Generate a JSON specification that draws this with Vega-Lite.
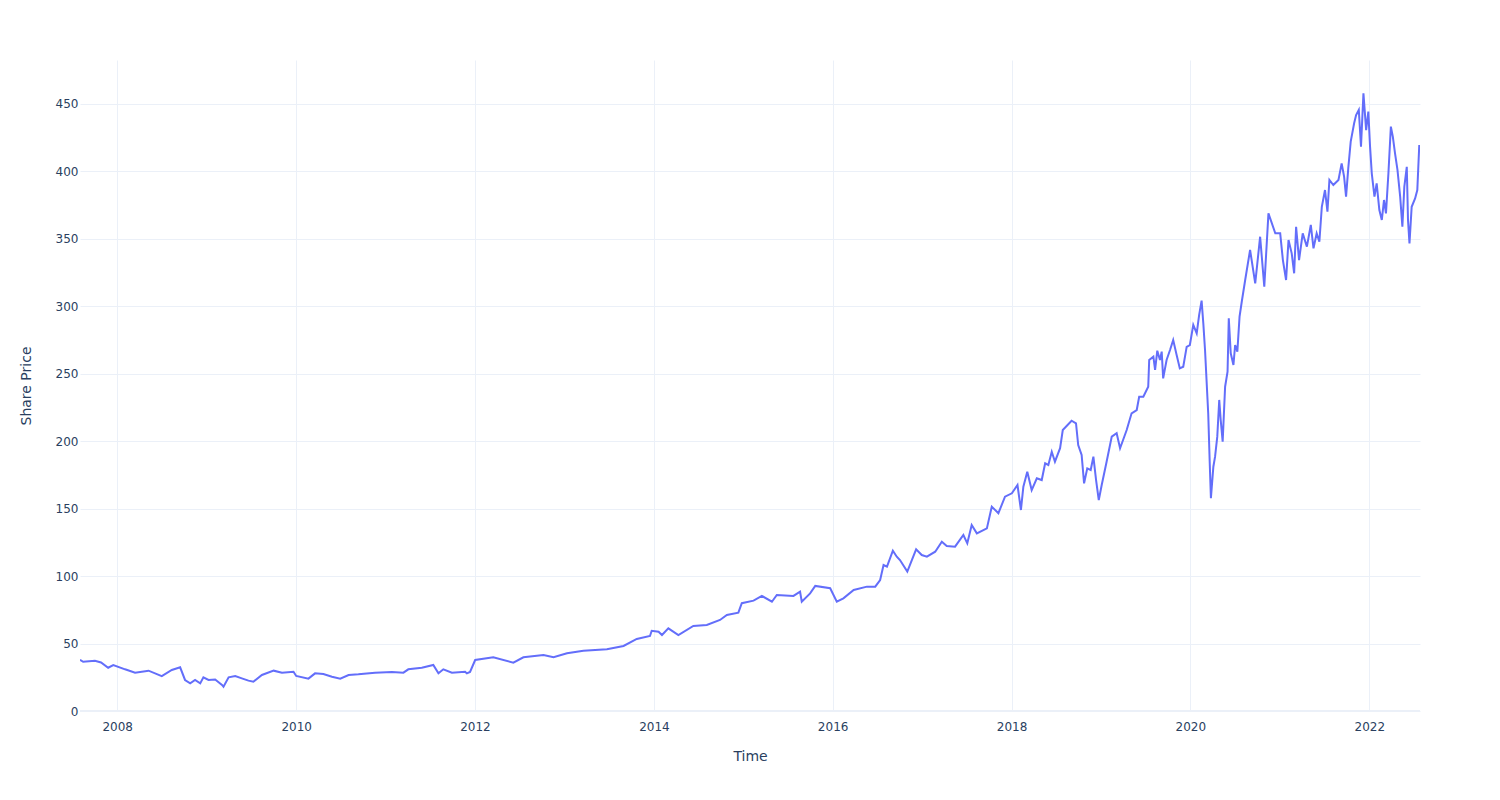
{
  "$schema": "https://vega.github.io/schema/vega-lite/v6.json",
  "autosize": "none",
  "width": 1340,
  "height": 651,
  "padding": {"left": 80, "top": 60, "right": 80, "bottom": 89},
  "background": "white",
  "config": {
    "view": {"stroke": null},
    "font": "DejaVu Sans"
  },
  "data": {
    "values": [
      {"date": "2007-08-02", "price": 38},
      {"date": "2007-08-15", "price": 36.5},
      {"date": "2007-10-02", "price": 37.3},
      {"date": "2007-10-27", "price": 36},
      {"date": "2007-11-25", "price": 32.1},
      {"date": "2007-12-16", "price": 34.1},
      {"date": "2008-02-02", "price": 30.9},
      {"date": "2008-03-14", "price": 28.4},
      {"date": "2008-05-08", "price": 29.9},
      {"date": "2008-07-01", "price": 25.9},
      {"date": "2008-08-11", "price": 30.4},
      {"date": "2008-09-14", "price": 32.4},
      {"date": "2008-10-04", "price": 23},
      {"date": "2008-10-25", "price": 20.5},
      {"date": "2008-11-14", "price": 23},
      {"date": "2008-12-05", "price": 20.5},
      {"date": "2008-12-18", "price": 25},
      {"date": "2009-01-08", "price": 23},
      {"date": "2009-02-04", "price": 23.4},
      {"date": "2009-03-04", "price": 19.3},
      {"date": "2009-03-10", "price": 18},
      {"date": "2009-03-31", "price": 25},
      {"date": "2009-04-27", "price": 25.9},
      {"date": "2009-05-24", "price": 24.2},
      {"date": "2009-06-20", "price": 22.5},
      {"date": "2009-07-10", "price": 21.7},
      {"date": "2009-08-14", "price": 26.7},
      {"date": "2009-10-01", "price": 29.9},
      {"date": "2009-11-04", "price": 28.4},
      {"date": "2009-12-21", "price": 29.1},
      {"date": "2010-01-01", "price": 26},
      {"date": "2010-02-20", "price": 24},
      {"date": "2010-03-19", "price": 27.9},
      {"date": "2010-04-22", "price": 27.4},
      {"date": "2010-05-27", "price": 25.4},
      {"date": "2010-06-30", "price": 24},
      {"date": "2010-08-03", "price": 26.7},
      {"date": "2010-09-12", "price": 27.2},
      {"date": "2010-11-19", "price": 28.4},
      {"date": "2011-01-27", "price": 28.9},
      {"date": "2011-03-15", "price": 28.4},
      {"date": "2011-04-04", "price": 30.9},
      {"date": "2011-05-29", "price": 32.1},
      {"date": "2011-07-15", "price": 34.1},
      {"date": "2011-08-05", "price": 27.9},
      {"date": "2011-08-25", "price": 30.9},
      {"date": "2011-09-29", "price": 28.4},
      {"date": "2011-11-22", "price": 29.1},
      {"date": "2011-11-29", "price": 27.9},
      {"date": "2011-12-12", "price": 29},
      {"date": "2012-01-02", "price": 37.8},
      {"date": "2012-03-16", "price": 39.8},
      {"date": "2012-06-06", "price": 35.8},
      {"date": "2012-07-17", "price": 39.8},
      {"date": "2012-10-07", "price": 41.5},
      {"date": "2012-11-17", "price": 39.8},
      {"date": "2013-01-11", "price": 42.8},
      {"date": "2013-03-19", "price": 44.7},
      {"date": "2013-06-23", "price": 45.7},
      {"date": "2013-08-30", "price": 48.2},
      {"date": "2013-10-23", "price": 53.4},
      {"date": "2013-12-16", "price": 55.6},
      {"date": "2013-12-23", "price": 59.5},
      {"date": "2014-01-20", "price": 58.8},
      {"date": "2014-02-03", "price": 56.3},
      {"date": "2014-03-01", "price": 61.3},
      {"date": "2014-04-11", "price": 56.3},
      {"date": "2014-06-11", "price": 63},
      {"date": "2014-08-05", "price": 63.8},
      {"date": "2014-09-28", "price": 67.5},
      {"date": "2014-10-26", "price": 71.2},
      {"date": "2014-12-12", "price": 72.9},
      {"date": "2014-12-26", "price": 79.9},
      {"date": "2015-02-12", "price": 81.8},
      {"date": "2015-03-18", "price": 85.3},
      {"date": "2015-04-28", "price": 81},
      {"date": "2015-05-18", "price": 86},
      {"date": "2015-07-25", "price": 85.3},
      {"date": "2015-08-21", "price": 88.4},
      {"date": "2015-08-28", "price": 81},
      {"date": "2015-10-01", "price": 87.2},
      {"date": "2015-10-22", "price": 92.7},
      {"date": "2015-12-22", "price": 91},
      {"date": "2016-01-18", "price": 81},
      {"date": "2016-02-14", "price": 83.5},
      {"date": "2016-03-27", "price": 89.7},
      {"date": "2016-05-20", "price": 92.2},
      {"date": "2016-06-23", "price": 92.2},
      {"date": "2016-07-13", "price": 97.1},
      {"date": "2016-07-27", "price": 108.2},
      {"date": "2016-08-10", "price": 107},
      {"date": "2016-09-03", "price": 118.8},
      {"date": "2016-09-19", "price": 114.4},
      {"date": "2016-10-02", "price": 111.9},
      {"date": "2016-11-01", "price": 103.3},
      {"date": "2016-12-07", "price": 119.9},
      {"date": "2016-12-30", "price": 115.6},
      {"date": "2017-01-20", "price": 114.4},
      {"date": "2017-02-23", "price": 118.1},
      {"date": "2017-03-22", "price": 125.5},
      {"date": "2017-04-11", "price": 122.3},
      {"date": "2017-05-15", "price": 121.8},
      {"date": "2017-06-18", "price": 130.5},
      {"date": "2017-07-04", "price": 124.3},
      {"date": "2017-07-22", "price": 137.9},
      {"date": "2017-08-12", "price": 131.7},
      {"date": "2017-09-22", "price": 135.4},
      {"date": "2017-10-12", "price": 151.5},
      {"date": "2017-11-08", "price": 146.6},
      {"date": "2017-12-05", "price": 158.9},
      {"date": "2018-01-02", "price": 161.4},
      {"date": "2018-01-25", "price": 167.5},
      {"date": "2018-02-08", "price": 149},
      {"date": "2018-02-18", "price": 166.3},
      {"date": "2018-03-06", "price": 177.4},
      {"date": "2018-03-24", "price": 163.8},
      {"date": "2018-04-14", "price": 172.5},
      {"date": "2018-05-04", "price": 171.2},
      {"date": "2018-05-18", "price": 183.6},
      {"date": "2018-05-31", "price": 182.4},
      {"date": "2018-06-14", "price": 192.2},
      {"date": "2018-06-27", "price": 184.8},
      {"date": "2018-07-18", "price": 194.8},
      {"date": "2018-07-29", "price": 208.3},
      {"date": "2018-09-03", "price": 215.2},
      {"date": "2018-09-21", "price": 213.3},
      {"date": "2018-09-30", "price": 197.2},
      {"date": "2018-10-14", "price": 189.8},
      {"date": "2018-10-24", "price": 168.8},
      {"date": "2018-11-06", "price": 179.9},
      {"date": "2018-11-20", "price": 178.7},
      {"date": "2018-12-01", "price": 188.5},
      {"date": "2018-12-12", "price": 171.2},
      {"date": "2018-12-23", "price": 156.4},
      {"date": "2019-01-04", "price": 167.5},
      {"date": "2019-01-24", "price": 184.8},
      {"date": "2019-02-14", "price": 203.4},
      {"date": "2019-03-06", "price": 205.9},
      {"date": "2019-03-20", "price": 194.8},
      {"date": "2019-04-16", "price": 208.3},
      {"date": "2019-05-06", "price": 220.7},
      {"date": "2019-05-27", "price": 223.1},
      {"date": "2019-06-06", "price": 233},
      {"date": "2019-06-23", "price": 233},
      {"date": "2019-07-13", "price": 240.4},
      {"date": "2019-07-17", "price": 260.2},
      {"date": "2019-08-03", "price": 262.7},
      {"date": "2019-08-10", "price": 252.8},
      {"date": "2019-08-19", "price": 267.1},
      {"date": "2019-08-30", "price": 260.2},
      {"date": "2019-09-06", "price": 266.4},
      {"date": "2019-09-12", "price": 246.6},
      {"date": "2019-09-26", "price": 260.2},
      {"date": "2019-10-10", "price": 267.6},
      {"date": "2019-10-23", "price": 275},
      {"date": "2019-11-06", "price": 263.9},
      {"date": "2019-11-19", "price": 254},
      {"date": "2019-12-03", "price": 255.2},
      {"date": "2019-12-17", "price": 270},
      {"date": "2019-12-30", "price": 271.3},
      {"date": "2020-01-13", "price": 286.2},
      {"date": "2020-01-27", "price": 280},
      {"date": "2020-02-06", "price": 293.6},
      {"date": "2020-02-16", "price": 304.2},
      {"date": "2020-02-23", "price": 287.4},
      {"date": "2020-03-01", "price": 267.6},
      {"date": "2020-03-14", "price": 220.7},
      {"date": "2020-03-20", "price": 185},
      {"date": "2020-03-25", "price": 157.7},
      {"date": "2020-04-04", "price": 181.1},
      {"date": "2020-04-11", "price": 188.5},
      {"date": "2020-04-20", "price": 203.4},
      {"date": "2020-04-28", "price": 230.6},
      {"date": "2020-05-04", "price": 215.7},
      {"date": "2020-05-12", "price": 199.7},
      {"date": "2020-05-22", "price": 240.4},
      {"date": "2020-06-01", "price": 251.5},
      {"date": "2020-06-06", "price": 291.1},
      {"date": "2020-06-14", "price": 265.2},
      {"date": "2020-06-25", "price": 256.5},
      {"date": "2020-07-02", "price": 271.3},
      {"date": "2020-07-11", "price": 266.4},
      {"date": "2020-07-20", "price": 292.3},
      {"date": "2020-07-29", "price": 303.4},
      {"date": "2020-08-12", "price": 319.5},
      {"date": "2020-09-01", "price": 341.8},
      {"date": "2020-09-22", "price": 317},
      {"date": "2020-10-12", "price": 351.6},
      {"date": "2020-10-29", "price": 314.5},
      {"date": "2020-11-15", "price": 368.9},
      {"date": "2020-12-13", "price": 354.1},
      {"date": "2021-01-02", "price": 354.1},
      {"date": "2021-01-13", "price": 334.3},
      {"date": "2021-01-26", "price": 319.5},
      {"date": "2021-02-05", "price": 349.2},
      {"date": "2021-02-18", "price": 339.3},
      {"date": "2021-02-28", "price": 324.5},
      {"date": "2021-03-08", "price": 359},
      {"date": "2021-03-20", "price": 334.3},
      {"date": "2021-04-04", "price": 354.1},
      {"date": "2021-04-21", "price": 344.2},
      {"date": "2021-05-07", "price": 360.3},
      {"date": "2021-05-18", "price": 343},
      {"date": "2021-05-31", "price": 354.1},
      {"date": "2021-06-11", "price": 347.9},
      {"date": "2021-06-21", "price": 373.8},
      {"date": "2021-07-04", "price": 386.2},
      {"date": "2021-07-14", "price": 370.2},
      {"date": "2021-07-22", "price": 393.7},
      {"date": "2021-08-07", "price": 389.9},
      {"date": "2021-08-28", "price": 393.7},
      {"date": "2021-09-10", "price": 406},
      {"date": "2021-09-20", "price": 396.1},
      {"date": "2021-09-28", "price": 381.3},
      {"date": "2021-10-07", "price": 402.3},
      {"date": "2021-10-17", "price": 422.1},
      {"date": "2021-10-31", "price": 435.7},
      {"date": "2021-11-08", "price": 441.8},
      {"date": "2021-11-19", "price": 445.6},
      {"date": "2021-11-28", "price": 418.4},
      {"date": "2021-12-08", "price": 457.9},
      {"date": "2021-12-19", "price": 430.6},
      {"date": "2021-12-28", "price": 444.3},
      {"date": "2022-01-04", "price": 418.4},
      {"date": "2022-01-11", "price": 398.6},
      {"date": "2022-01-22", "price": 381.3},
      {"date": "2022-01-31", "price": 391.2},
      {"date": "2022-02-11", "price": 371.4},
      {"date": "2022-02-21", "price": 364},
      {"date": "2022-03-02", "price": 378.8},
      {"date": "2022-03-10", "price": 368.9},
      {"date": "2022-03-20", "price": 398.6},
      {"date": "2022-03-30", "price": 433.2},
      {"date": "2022-04-07", "price": 425.8},
      {"date": "2022-04-16", "price": 413.4},
      {"date": "2022-04-26", "price": 401.1},
      {"date": "2022-05-07", "price": 381.3},
      {"date": "2022-05-16", "price": 359},
      {"date": "2022-05-24", "price": 388.7},
      {"date": "2022-06-03", "price": 403.4},
      {"date": "2022-06-08", "price": 364},
      {"date": "2022-06-14", "price": 346.7},
      {"date": "2022-06-23", "price": 373.8},
      {"date": "2022-07-07", "price": 380},
      {"date": "2022-07-16", "price": 386.2},
      {"date": "2022-07-24", "price": 419.6}
    ]
  },
  "layer": [
    {
      "mark": {"type": "rule", "color": "#ebf0f8", "strokeWidth": 2},
      "encoding": {"y": {"datum": 0, "type": "quantitative"}}
    },
    {
      "mark": {"type": "line", "color": "#636efa", "strokeWidth": 2, "clip": true},
      "encoding": {
        "x": {
          "field": "date",
          "type": "temporal",
          "scale": {"type": "utc", "domain": [{"year": 2007, "month": 8, "date": 2, "utc": true}, {"year": 2022, "month": 7, "date": 27, "utc": true}], "nice": false},
          "axis": {
            "title": "Time",
            "format": "%Y",
            "tickCount": {"interval": "year", "step": 2},
            "domain": false,
            "ticks": false,
            "grid": true,
            "gridColor": "#ebf0f8",
            "gridWidth": 1,
            "labelColor": "#2a3f5f",
            "labelFontSize": 12,
            "labelFont": "DejaVu Sans",
            "labelPadding": 10,
            "labelFlush": false,
            "titleColor": "#2a3f5f",
            "titleFontSize": 14,
            "titleFont": "DejaVu Sans",
            "titleFontWeight": "normal",
            "titlePadding": 17
          }
        },
        "y": {
          "field": "price",
          "type": "quantitative",
          "scale": {"domain": [0, 482.6], "nice": false, "zero": true},
          "axis": {
            "title": "Share Price",
            "values": [0, 50, 100, 150, 200, 250, 300, 350, 400, 450],
            "domain": false,
            "ticks": false,
            "grid": true,
            "gridColor": "#ebf0f8",
            "gridWidth": 1,
            "labelColor": "#2a3f5f",
            "labelFontSize": 12,
            "labelFont": "DejaVu Sans",
            "labelPadding": 2,
            "labelFlush": false,
            "titleColor": "#2a3f5f",
            "titleFontSize": 14,
            "titleFont": "DejaVu Sans",
            "titleFontWeight": "normal",
            "titlePadding": 22
          }
        }
      }
    }
  ]
}
